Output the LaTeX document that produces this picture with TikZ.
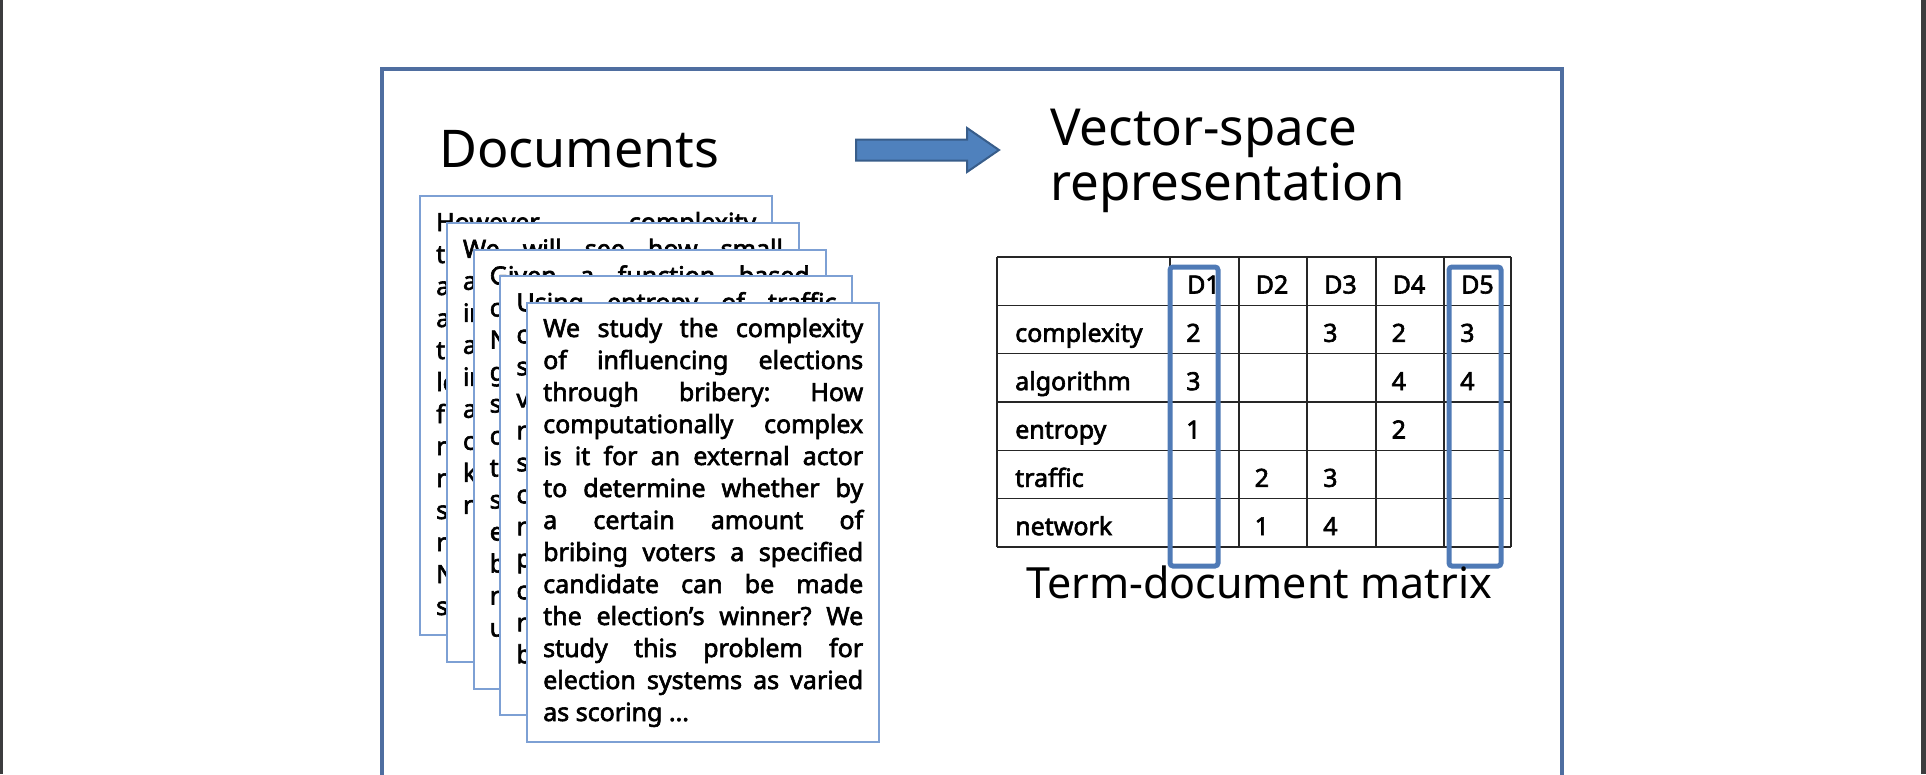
\documentclass[tikz,border=0pt]{standalone}
\usepackage{fontspec}
\setmainfont{Noto Sans}
\newfontfamily\bodyfont{Noto Sans}[FakeBold=2.5]
\usetikzlibrary{positioning}

\definecolor{framecol}{RGB}{79,110,160}
\definecolor{paperblue}{RGB}{125,160,212}
\definecolor{arrowfill}{RGB}{79,129,189}
\definecolor{arrowline}{RGB}{56,93,138}
\definecolor{markblue}{RGB}{79,122,182}
\definecolor{sidebar}{RGB}{60,60,62}

\tikzset{
  docpage/.style={draw=paperblue, line width=2pt, fill=white, anchor=north west,
    minimum width=352pt, minimum height=439pt, inner sep=0pt},
  doctext/.style={anchor=base west, inner sep=0pt, text width=320pt, align=justify,
    font=\bodyfont\fontsize{25}{32}\selectfont},
  headline/.style={anchor=base west, inner sep=0pt, font=\fontsize{51}{56}\selectfont},
  tabcell/.style={anchor=base west, inner sep=0pt, font=\bodyfont\fontsize{25}{30}\selectfont},
  gridline/.style={line width=1.6pt, black!85},
  colmark/.style={draw=markblue, line width=5pt, rounded corners=3pt},
  blockarrow/.style={fill=arrowfill, draw=arrowline, line width=2pt, line join=miter},
}

\begin{document}
\tolerance=9999
\hyphenpenalty=10000
\frenchspacing
\begin{tikzpicture}[x=1pt,y=-1pt]
\useasboundingbox (0,0) rectangle (1926,774);
\clip (0,0) rectangle (1926,774);

% page edges
\fill[sidebar] (0,0) rectangle (2.5,774);
\fill[sidebar] (1921,0) rectangle (1926,774);

% slide frame
\draw[framecol, line width=3.5pt] (382,69) rectangle (1562,830);

% titles
\node[headline, font=\fontsize{52}{56}\selectfont] (doctitle) at (439,167) {Documents};
\node[headline] (vectitle) at (1050,145) {Vector-space};
\node[headline] (reptitle) at (1050,200) {representation};

% block arrow
\draw[blockarrow] (856,139.5) -- (967,139.5) -- (967,128) -- (999,150)
  -- (967,172) -- (967,160.5) -- (856,160.5) -- cycle;

% stack of documents
\node[docpage] (docA) at (419,195) {};
\node[doctext] (txtA) at ([xshift=17pt,yshift=-36pt]docA.north west)
  {However\hfill complexity\\ t\\ a\\ a\\ t\\ lo\\ f\\ r\\ r\\ s\\ r\\ N\\ s};

\node[docpage] (docB) at (445.75,221.75) {};
\node[doctext] (txtB) at ([xshift=17pt,yshift=-36pt]docB.north west)
  {We will see how small\linebreak a\\ in\\ a\\ in\\ a\\ c\\ k\\ r};

\node[docpage] (docC) at (472.5,248.5) {};
\node[doctext] (txtC) at ([xshift=17pt,yshift=-36pt]docC.north west)
  {Given a function based\linebreak c\\ N\\ g\\ s\\ c\\ t\\ s\\ e\\ b\\ r\\ u};

\node[docpage] (docD) at (499.25,275.25) {};
\node[doctext] (txtD) at ([xshift=17pt,yshift=-36pt]docD.north west)
  {Using entropy of traffic\linebreak c\\ s\\ v\\ r\\ s\\ c\\ r\\ p\\ c\\ r\\ b};

\node[docpage] (docE) at (526,302) {};
\node[doctext] (txtE) at ([xshift=17pt,yshift=-35pt]docE.north west)
  {We study the complexity\linebreak
   of influencing elections\linebreak
   through bribery: How\linebreak
   computationally complex\linebreak
   is it for an external actor\linebreak
   to determine whether by\linebreak
   a certain amount of\linebreak
   bribing voters a specified\linebreak
   candidate can be made\linebreak
   the election’s winner? We\linebreak
   study this problem for\linebreak
   election systems as varied\linebreak
   as scoring ...};

% term-document matrix
\foreach \y in {257,305.33,353.67,402,450.33,498.67,547}
  \draw[gridline] (997,\y) -- (1511,\y);
\foreach \x in {997,1170,1239,1307,1376,1444,1511}
  \draw[gridline] (\x,257) -- (\x,547);

\foreach \c in {1,...,5}
  \node[tabcell] (head-\c) at ({1170+68.5*(\c-1)+17},293.5) {D\c};

\foreach \term [count=\r] in {complexity,algorithm,entropy,traffic,network}
  \node[tabcell] (term-\r) at (1015,{293.5+48.33*\r}) {\term};

\foreach \r/\c/\v in {1/1/2,1/3/3,1/4/2,1/5/3,2/1/3,2/4/4,2/5/4,3/1/1,3/4/2,
                      4/2/2,4/3/3,5/2/1,5/3/4}
  \node[tabcell] (val-\r-\c) at ({1170+68.5*(\c-1)+16},{293.5+48.33*\r}) {\v};

% highlighted document columns
\draw[colmark] (1170,267) rectangle (1218,566);
\draw[colmark] (1449,267) rectangle (1501,566);

\node[anchor=base, inner sep=0pt, font=\fontsize{43}{48}\selectfont] (tdmcap)
  at (1259,598) {Term-document matrix};
\end{tikzpicture}
\end{document}
